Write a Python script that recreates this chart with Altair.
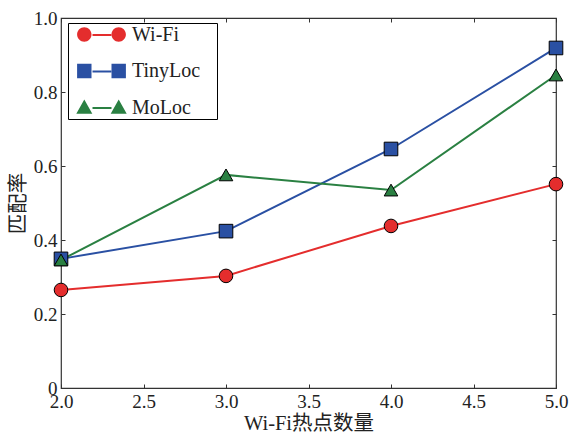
import altair as alt
import pandas as pd

x_vals = [2.0, 3.0, 4.0, 5.0]
series_names = ["Wi-Fi", "TinyLoc", "MoLoc"]
wifi = [0.265, 0.303, 0.438, 0.551]
tinyloc = [0.349, 0.424, 0.646, 0.919]
moloc = [0.346, 0.576, 0.535, 0.846]
colors = ["#e42d2d", "#2a50a3", "#2a8042"]
point_shapes = ["circle", "square", "triangle-up"]
x_ticks = [2.0, 2.5, 3.0, 3.5, 4.0, 4.5, 5.0]
y_ticks = [0, 0.2, 0.4, 0.6, 0.8, 1.0]
x_title = "Wi-Fi热点数量"
y_title = "匹配率"

rows = []
for name, vals in zip(series_names, [wifi, tinyloc, moloc]):
    for xv, yv in zip(x_vals, vals):
        rows.append({"x": xv, "value": yv, "series": name, "name": name,
                     "kind": name, "lab": name})
df = pd.DataFrame(rows)

FONT = "Liberation Serif, Noto Sans CJK SC, serif"
FS = 19
TFS = 20.5
LFS = 20
AX = "#333333"

# legend symbol paths (units scaled by sqrt(size)/2)
c = 1.72
r = 0.72
def circ(cx):
    return f"M{cx - r},0 A{r},{r} 0 1,1 {cx + r},0 A{r},{r} 0 1,1 {cx - r},0 Z"
def sq(cx):
    return f"M{cx - r},{-r} L{cx + r},{-r} L{cx + r},{r} L{cx - r},{r} Z"
def tri(cx):
    return f"M{cx},-0.8 L{cx + 0.8},0.62 L{cx - 0.8},0.62 Z"
legend_paths = [circ(-c) + " " + circ(c), sq(-c) + " " + sq(c), tri(-c) + " " + tri(c)]

xscale = alt.Scale(domain=[2, 5], nice=False, zero=False)
yscale = alt.Scale(domain=[0, 1], nice=False)

LX, LY = 7, 5
LEG = dict(orient="none", legendX=LX, legendY=LY, title=None, symbolSize=400,
           labelFont=FONT, labelFontSize=LFS, padding=1, rowPadding=15.5,
           symbolOffset=22)

base = alt.Chart(df)

lines = base.mark_line(strokeWidth=2).encode(
    x=alt.X("x:Q", scale=xscale,
            axis=alt.Axis(orient="bottom", values=x_ticks, format=".1f", ticks=False,
                          domain=False, grid=False, labelFlush=False, labelPadding=4,
                          labelFont=FONT, labelFontSize=FS, labelColor="#222",
                          title=x_title, titleFont=FONT, titleFontSize=TFS,
                          titleFontWeight="normal", titleColor="#222", titlePadding=2)),
    y=alt.Y("value:Q", scale=yscale,
            axis=alt.Axis(orient="left", values=y_ticks,
                          labelExpr="datum.value == 0 ? '0' : format(datum.value, '.1f')",
                          ticks=False, domain=False, grid=False, labelFlush=False,
                          labelPadding=4, labelFont=FONT, labelFontSize=FS, labelColor="#222",
                          title=y_title, titleFont=FONT, titleFontSize=TFS,
                          titleFontWeight="normal", titleColor="#222", titlePadding=5)),
    stroke=alt.Stroke("series:N", sort=series_names,
                      scale=alt.Scale(range=colors),
                      legend=alt.Legend(symbolType="M-0.95,0 L0.95,0", symbolStrokeWidth=2,
                                        labelOpacity=0, labelExpr="'ii'", labelOffset=91,
                                        fillColor="white", strokeColor="black", **LEG)),
    detail="series:N",
)

points = base.mark_point(filled=True, size=185, stroke="black", strokeWidth=1, opacity=1).encode(
    x=alt.X("x:Q", scale=xscale,
            axis=alt.Axis(orient="top", values=x_ticks, labels=False, domain=False, grid=False,
                          ticks=True, tickSize=4, offset=-4, tickColor=AX, title=None)),
    y=alt.Y("value:Q", scale=yscale,
            axis=alt.Axis(orient="right", values=y_ticks, labels=False, domain=False, grid=False,
                          ticks=True, tickSize=4, offset=-4, tickColor=AX, title=None)),
    fill=alt.Fill("name:N", sort=series_names, scale=alt.Scale(range=colors), legend=None),
    shape=alt.Shape("kind:N", sort=series_names, scale=alt.Scale(range=point_shapes),
                    legend=None),
)

FILL_LEG = dict(symbolStrokeColor="black", symbolStrokeWidth=1, labelColor="#222",
                labelOffset=20, **LEG)

legend_layer = base.mark_point(filled=True, stroke="black", strokeWidth=1, opacity=1).encode(
    x=alt.X("x:Q", scale=xscale,
            axis=alt.Axis(orient="bottom", values=x_ticks, labels=False, domain=False, grid=False,
                          ticks=True, tickSize=4, offset=-4, tickColor=AX, title=None)),
    y=alt.Y("value:Q", scale=yscale,
            axis=alt.Axis(orient="left", values=y_ticks, labels=False, domain=False, grid=False,
                          ticks=True, tickSize=4, offset=-4, tickColor=AX, title=None)),
    fill=alt.Fill("lab:N", scale=alt.Scale(domain=series_names, range=colors),
                  legend=alt.Legend(**FILL_LEG)),
    shape=alt.Shape("lab:N", scale=alt.Scale(domain=series_names, range=legend_paths),
                    legend=alt.Legend(**FILL_LEG)),
).transform_filter("datum.x < 0")

chart = alt.layer(lines, points, legend_layer).resolve_axis(
    x="independent", y="independent"
).resolve_scale(shape="independent", fill="independent").properties(
    width=495, height=370,
    autosize=alt.AutoSizeParams(type="none"),
    padding={"left": 61, "top": 18, "right": 27, "bottom": 45},
    background="white",
).configure_view(stroke=AX, strokeWidth=1.2)

chart.save("out.html", embed_options={"renderer": "svg", "actions": False})
